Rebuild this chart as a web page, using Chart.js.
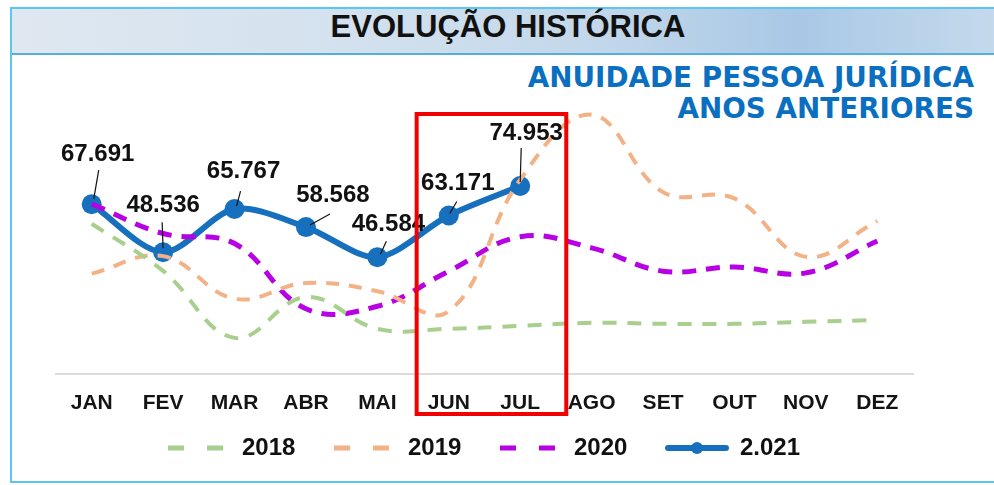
<!DOCTYPE html>
<html lang="pt-BR">
<head>
<meta charset="utf-8">
<title>Evolução histórica</title>
<script src="https://cdn.jsdelivr.net/npm/chart.js@4.4.1/dist/chart.umd.min.js"></script>
<style>
  html, body { margin: 0; padding: 0; background: #fff; }
  body { width: 994px; height: 485px; position: relative; overflow: hidden; font-family: "Liberation Sans", Arial, sans-serif; }
  #frame { position: absolute; left: 10px; top: 7px; width: 990px; height: 476px; border: 2px solid #5cc6f0; border-right: none; box-sizing: border-box; }
  #titlebar { position: absolute; left: 12px; top: 9px; right: 0; height: 44px; border-bottom: 2px solid #55aee0;
    background: linear-gradient(90deg, #dfe8f1 0%, #d3e1ee 35%, #c2d7ea 60%, #a9c8e6 80%, #c4d9ec 100%); }
  #title { position: absolute; left: 0; width: 1016px; top: 9px; height: 44px; line-height: 42px; text-align: center;
    font: bold 31px "Liberation Sans", Arial, sans-serif; color: #111; }
  #sub { position: absolute; right: 20px; top: 62px; text-align: right; color: #0a6fc0;
    font: bold 27.8px "DejaVu Sans", Verdana, sans-serif; line-height: 31px; }
  #chart { position: absolute; left: 0; top: 0; }
</style>
</head>
<body>
<div id="frame"></div>
<div id="titlebar"></div>
<div id="title">EVOLUÇÃO HISTÓRICA</div>
<div id="sub">ANUIDADE PESSOA JURÍDICA<br>ANOS ANTERIORES</div>
<canvas id="chart" width="994" height="485"></canvas>
<script>
/* ===== dados ===== */
const MESES = ["JAN", "FEV", "MAR", "ABR", "MAI", "JUN", "JUL", "AGO", "SET", "OUT", "NOV", "DEZ"];
const ANO_2018 = [59900, 41100, 14400, 30700, 18000, 18000, 19200, 20400, 20000, 20000, 20800, 21500];
const ANO_2019 = [40000, 47000, 30000, 36300, 33000, 25000, 77500, 103400, 72500, 70000, 46700, 61000];
const ANO_2020 = [67800, 56000, 52000, 26000, 27000, 41000, 54700, 50300, 41000, 42700, 40300, 53000];
const ANO_2021 = [67691, 48536, 65767, 58568, 46584, 63171, 74953, null, null, null, null, null];
const LEGENDAS = ["2018", "2019", "2020", "2.021"];

/* deslocamento dos rótulos do 2021 (centro do texto e linha guia) */
const ROTULO_POS = [
  { dx: 6,  dy: -50, lx: 7,  ly: -34, px: 2,  py: -5 },
  { dx: 0,  dy: -47, lx: -1, ly: -30, px: 0,  py: -4 },
  { dx: 9,  dy: -38, lx: 6,  ly: -18, px: 2,  py: -3 },
  { dx: 27, dy: -32, lx: 24, ly: -13, px: 4,  py: -2 },
  { dx: 11, dy: -33, lx: 9,  ly: -16, px: 3,  py: -3 },
  { dx: 9,  dy: -32, lx: 8,  ly: -14, px: 1,  py: -2 },
  { dx: 6,  dy: -53, lx: 1,  ly: -38, px: 0,  py: -4 }
];

function formatBR(v) {
  return String(Math.round(v)).replace(/\B(?=(\d{3})+(?!\d))/g, ".");
}

/* ===== rótulos de dados ===== */
const rotulosPlugin = {
  id: "rotulos",
  afterDatasetsDraw(chart) {
    const ctx = chart.ctx;
    const meta = chart.getDatasetMeta(3);
    ctx.save();
    ctx.font = "bold 24px 'Liberation Sans', Arial, sans-serif";
    ctx.textAlign = "center";
    ctx.textBaseline = "middle";
    meta.data.forEach((pt, i) => {
      const v = ANO_2021[i];
      if (v == null) return;
      const o = ROTULO_POS[i];
      ctx.strokeStyle = "#111";
      ctx.lineWidth = 1.2;
      ctx.beginPath();
      ctx.moveTo(pt.x + o.lx, pt.y + o.ly);
      ctx.lineTo(pt.x + o.px, pt.y + o.py);
      ctx.stroke();
      ctx.fillStyle = "#111";
      ctx.fillText(formatBR(v), pt.x + o.dx, pt.y + o.dy);
    });
    ctx.restore();
  }
};

/* ===== moldura vermelha + legenda ===== */
const extrasPlugin = {
  id: "extras",
  afterDraw(chart) {
    const ctx = chart.ctx;
    const x = chart.scales.x;
    const area = chart.chartArea;
    const step = x.getPixelForValue(1) - x.getPixelForValue(0);

    // destaque JUN-JUL
    const left = x.getPixelForValue(5) - step * 0.45;
    const right = x.getPixelForValue(6) + step * 0.645;
    ctx.save();
    ctx.strokeStyle = "#f00000";
    ctx.lineWidth = 4;
    ctx.strokeRect(left, area.top + 41, right - left, area.bottom - area.top - 1);
    ctx.restore();

    // legenda
    const y = 448;
    const passo = 166;
    const start = 168;
    ctx.save();
    ctx.font = "bold 24px 'Liberation Sans', Arial, sans-serif";
    ctx.textBaseline = "middle";
    chart.data.datasets.forEach((ds, i) => {
      const x0 = start + i * passo;
      ctx.strokeStyle = ds.borderColor;
      ctx.lineCap = "butt";
      if (ds.borderDash && ds.borderDash.length) {
        ctx.lineWidth = 5;
        ctx.setLineDash([16, 23]);
        ctx.beginPath();
        ctx.moveTo(x0, y);
        ctx.lineTo(x0 + 55, y);
        ctx.stroke();
      } else {
        ctx.setLineDash([]);
        ctx.lineWidth = 6;
        ctx.lineCap = "round";
        ctx.beginPath();
        ctx.moveTo(x0 + 2, y);
        ctx.lineTo(x0 + 60, y);
        ctx.stroke();
        ctx.fillStyle = ds.borderColor;
        ctx.beginPath();
        ctx.arc(x0 + 31, y, 6, 0, Math.PI * 2);
        ctx.fill();
      }
      ctx.setLineDash([]);
      ctx.fillStyle = "#111";
      ctx.fillText(LEGENDAS[i], x0 + 74, y);
    });
    ctx.restore();
  }
};

const ctx = document.getElementById("chart").getContext("2d");
new Chart(ctx, {
  type: "line",
  data: {
    labels: MESES,
    datasets: [
      { label: LEGENDAS[0], data: ANO_2018, borderColor: "#a8cf8d", borderWidth: 4, borderDash: [14, 11],
        tension: 0.4, pointRadius: 0, fill: false },
      { label: LEGENDAS[1], data: ANO_2019, borderColor: "#f2b286", borderWidth: 4, borderDash: [13, 10],
        tension: 0.4, pointRadius: 0, fill: false },
      { label: LEGENDAS[2], data: ANO_2020, borderColor: "#b800e4", borderWidth: 5, borderDash: [14, 10],
        tension: 0.4, pointRadius: 0, fill: false },
      { label: LEGENDAS[3], data: ANO_2021, borderColor: "#1670be", backgroundColor: "#1670be", borderWidth: 6,
        tension: 0.3, pointRadius: 10, pointBackgroundColor: "#1670be", pointBorderWidth: 0, fill: false }
    ]
  },
  options: {
    responsive: false,
    animation: false,
    layout: { padding: { left: 56, right: 81, top: 73, bottom: 41 } },
    plugins: {
      legend: { display: false },
      title: { display: false },
      tooltip: { enabled: false }
    },
    scales: {
      y: { display: false, min: 0, max: 120000 },
      x: {
        offset: true,
        grid: { display: false },
        border: { color: "#dcdcdc", width: 2 },
        ticks: {
          autoSkip: false, maxRotation: 0, padding: 9, color: "#141414",
          font: { family: "'Liberation Sans', Arial, sans-serif", size: 21, weight: "bold" }
        },
        afterFit(scale) { scale.height = 70; }
      }
    }
  },
  plugins: [rotulosPlugin, extrasPlugin]
});
</script>
</body>
</html>
